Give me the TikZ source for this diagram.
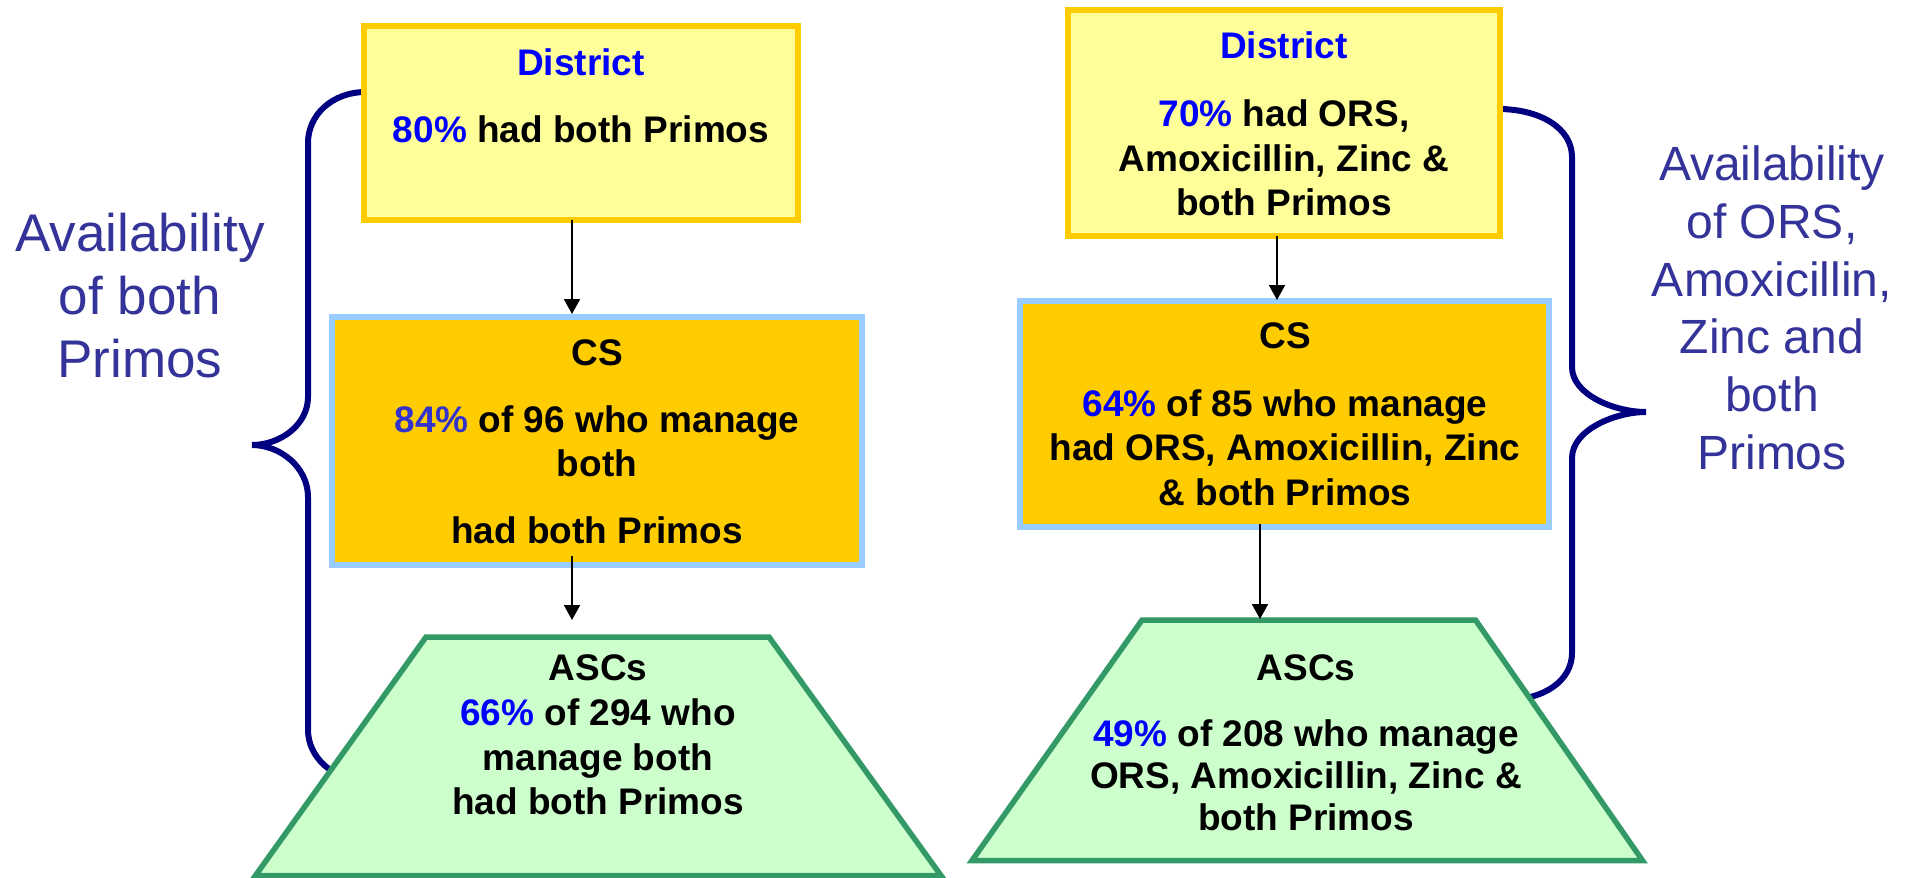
\documentclass[tikz,border=0pt]{standalone}
\usepackage{fontspec}
\setmainfont{Liberation Sans}
\usetikzlibrary{arrows.meta}
\definecolor{navy}{HTML}{000080}
\definecolor{gold}{HTML}{FFCC00}
\definecolor{paleyellow}{HTML}{FFFF99}
\definecolor{skyline}{HTML}{99CCFF}
\definecolor{mint}{HTML}{CCFFCC}
\definecolor{leaf}{HTML}{339966}
\definecolor{pctblue}{HTML}{0000FF}
\definecolor{pctviolet}{HTML}{3333CC}
\definecolor{labelblue}{HTML}{333399}
\newcommand{\pct}[1]{{\color{pctblue}#1}}
\begin{document}
\begin{tikzpicture}[x=1pt,y=-1pt,
  districtbox/.style={draw=gold, fill=paleyellow, line width=6pt, inner sep=0pt, outer sep=0pt},
  csbox/.style={draw=skyline, fill=gold, line width=6pt, inner sep=0pt, outer sep=0pt},
  ascbox/.style={draw=leaf, fill=mint, line width=5.5pt},
  bodytext/.style={font=\fontsize{37}{44}\selectfont\bfseries, anchor=base, inner sep=0pt},
  leftlabel/.style={font=\fontsize{53}{64}\selectfont, text=labelblue, anchor=base, inner sep=0pt},
  rightlabel/.style={font=\fontsize{48}{58}\selectfont, text=labelblue, anchor=base, inner sep=0pt},
  brace/.style={draw=navy, line width=6pt},
  flow/.style={draw=black, line width=2pt, -{Triangle[length=15pt,width=16pt]}},
]
\useasboundingbox (0,0) rectangle (1907,878);

% curly braces behind the boxes
\draw[brace] (366,92) .. controls (332,92) and (308,115) .. (308,143)
  -- (308,397) .. controls (308,425) and (280,445) .. (252,445)
  .. controls (280,445) and (308,467) .. (308,497)
  -- (308,730) .. controls (308,757) and (333,780) .. (363,780);
\draw[brace] (1498,109) .. controls (1540,109) and (1572,128) .. (1572,157)
  -- (1572,367) .. controls (1572,395) and (1615,412) .. (1646,412)
  .. controls (1615,412) and (1572,430) .. (1572,458)
  -- (1572,653) .. controls (1572,680) and (1545,700) .. (1505,700);

% left column
\node[districtbox, minimum width=434pt, minimum height=194pt] (dl) at (581,123) {};
\node[csbox, minimum width=530pt, minimum height=248pt] (cl) at (597,441) {};
\draw[ascbox] (426,637) -- (769,637) -- (941,875.5) -- (255.5,875.5) -- cycle;
\coordinate (tl) at (598,637);

% right column
\node[districtbox, minimum width=432pt, minimum height=226pt] (dr) at (1284,123) {};
\node[csbox, minimum width=529pt, minimum height=226pt] (cr) at (1284.5,414) {};
\draw[ascbox] (1142,620) -- (1475.5,620) -- (1642.5,860.5) -- (972,860.5) -- cycle;
\coordinate (tr) at (1307,620);

% left column text
\node[bodytext, text=pctblue] (dl1) at (581,75) {District};
\node[bodytext] (dl2) at (581,142) {\pct{80\%} had both Primos};
\node[bodytext] (cl1) at (597,365) {CS};
\node[bodytext] (cl2) at (597,432) {{\color{pctviolet}84\%} of 96 who manage};
\node[bodytext] (cl3) at (597,476) {both};
\node[bodytext] (cl4) at (597,543) {had both Primos};
\node[bodytext] (tl1) at (598,680) {ASCs};
\node[bodytext] (tl2) at (598,725) {\pct{66\%} of 294 who};
\node[bodytext] (tl3) at (598,770) {manage both};
\node[bodytext] (tl4) at (598,814) {had both Primos};

% right column text
\node[bodytext, text=pctblue] (dr1) at (1284,58) {District};
\node[bodytext] (dr2) at (1284,126) {\pct{70\%} had ORS,};
\node[bodytext] (dr3) at (1284,171) {Amoxicillin, Zinc \&};
\node[bodytext] (dr4) at (1284,215) {both Primos};
\node[bodytext] (cr1) at (1285,348) {CS};
\node[bodytext] (cr2) at (1285,416) {\pct{64\%} of 85 who manage};
\node[bodytext] (cr3) at (1285,460) {had ORS, Amoxicillin, Zinc};
\node[bodytext] (cr4) at (1285,505) {\& both Primos};
\node[bodytext] (tr1) at (1306,680) {ASCs};
\node[bodytext] (tr2) at (1306,746) {\pct{49\%} of 208 who manage};
\node[bodytext] (tr3) at (1306,788) {ORS, Amoxicillin, Zinc \&};
\node[bodytext] (tr4) at (1306,830) {both Primos};

% side labels
\node[leftlabel] (ll1) at (140,251) {Availability};
\node[leftlabel] (ll2) at (140,314) {of both};
\node[leftlabel] (ll3) at (140,377) {Primos};
\node[rightlabel] (rl1) at (1772,180) {Availability};
\node[rightlabel] (rl2) at (1772,238) {of ORS,};
\node[rightlabel] (rl3) at (1772,296) {Amoxicillin,};
\node[rightlabel] (rl4) at (1772,353) {Zinc and};
\node[rightlabel] (rl5) at (1772,411) {both};
\node[rightlabel] (rl6) at (1772,469) {Primos};

% connectors
\draw[flow, shorten >=3pt] (dl.south -| 572,0) -- (cl.north -| 572,0);
\draw[flow, shorten <=-9pt, shorten >=17pt] (cl.south -| 572,0) -- (tl -| 572,0);
\draw[flow, shorten >=1pt] (dr.south -| 1277,0) -- (cr.north -| 1277,0);
\draw[flow, shorten <=-3pt, shorten >=1pt] (cr.south -| 1260,0) -- (tr -| 1260,0);
\end{tikzpicture}
\end{document}
